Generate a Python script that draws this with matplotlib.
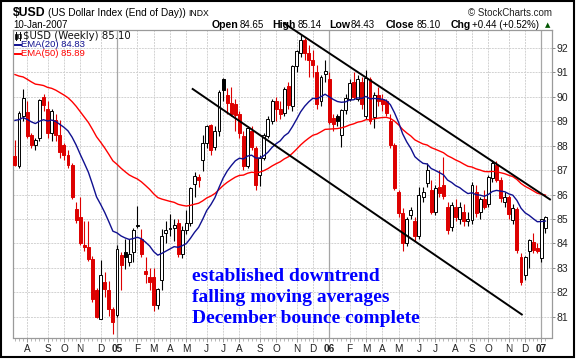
import matplotlib
matplotlib.use('Agg')
import matplotlib.pyplot as plt
import numpy as np
import pandas as pd
from matplotlib.patches import Rectangle
from matplotlib.lines import Line2D

# ---------------- data (weekly candles, week of 2004-07-12 .. 2007-01-08) ----------------
first_week = '2004-07-12'
opens = [87.58, 87.17, 89.19, 89.39, 88.44, 88.03, 88.30, 90.00, 89.49, 88.50,
         89.05, 88.44, 88.03, 87.62, 87.20, 85.40, 85.09, 83.93, 83.86, 83.38,
         82.08, 80.93, 82.43, 82.09, 81.33, 81.06, 83.52, 83.66, 83.25, 83.66,
         84.72, 84.20, 82.88, 82.63, 82.63, 81.47, 82.50, 84.41, 84.60, 84.62,
         84.84, 83.59, 84.54, 84.82, 86.43, 86.70, 87.40, 88.12, 88.85, 87.95,
         88.60, 90.72, 90.05, 89.72, 89.70, 89.30, 88.40, 87.15, 88.60, 87.90,
         86.80, 87.50, 88.40, 89.00, 89.80, 89.50, 89.33, 90.42, 89.60, 91.24,
         91.80, 92.30, 91.80, 91.50, 91.00, 89.80, 90.92, 90.70, 89.12, 89.20,
         88.44, 89.46, 89.90, 90.60, 89.90, 90.60, 89.20, 90.70, 89.16, 90.08,
         89.90, 89.80, 89.00, 88.03, 86.10, 85.23, 84.00, 85.16, 84.90, 84.30,
         85.90, 86.46, 86.18, 85.27, 86.30, 86.40, 85.50, 84.68, 85.50, 85.00,
         85.30, 84.90, 84.95, 86.10, 85.30, 85.80, 85.60, 86.66, 87.20, 86.60,
         85.70, 85.90, 84.95, 85.40, 83.45, 82.70, 83.70, 84.07, 83.80, 83.40,
         84.65]
highs = [88.23, 89.40, 90.31, 89.80, 88.50, 88.30, 89.90, 90.12, 89.80, 89.50,
         89.30, 89.05, 88.10, 87.80, 87.30, 85.70, 85.90, 84.90, 84.90, 83.50,
         82.20, 83.32, 82.84, 82.48, 81.40, 83.93, 83.66, 84.20, 84.20, 84.62,
         85.55, 84.60, 83.45, 83.00, 83.00, 82.20, 84.60, 84.90, 85.20, 85.00,
         85.00, 84.70, 85.36, 86.32, 86.90, 86.85, 88.45, 88.85, 88.90, 88.80,
         90.25, 90.76, 90.35, 90.40, 89.90, 89.40, 88.60, 88.80, 88.80, 88.00,
         87.60, 88.50, 89.20, 89.90, 90.00, 89.80, 90.40, 90.60, 91.30, 91.90,
         92.50, 92.40, 92.10, 91.90, 91.30, 90.90, 91.50, 91.00, 89.30, 89.30,
         89.50, 90.10, 90.70, 91.00, 90.90, 90.80, 91.10, 90.80, 90.20, 90.40,
         90.10, 89.90, 89.30, 88.10, 86.20, 85.43, 85.10, 85.50, 85.10, 86.30,
         86.30, 87.28, 86.60, 86.40, 87.00, 87.55, 85.70, 85.70, 85.80, 85.70,
         85.60, 85.30, 86.50, 86.40, 85.90, 86.20, 86.80, 87.40, 87.35, 86.70,
         86.10, 86.00, 85.60, 85.50, 83.60, 83.50, 84.20, 84.41, 84.00, 85.00,
         85.14]
lows = [87.15, 87.10, 89.00, 88.30, 87.90, 87.82, 88.20, 89.40, 88.30, 88.20,
        88.20, 87.50, 87.40, 87.10, 85.80, 84.85, 83.95, 83.70, 83.30, 81.60,
        80.95, 80.90, 81.81, 81.05, 80.31, 81.00, 82.08, 82.95, 83.10, 83.25,
        84.65, 83.45, 82.40, 82.10, 81.26, 81.33, 82.10, 84.00, 84.30, 84.10,
        83.45, 83.40, 84.40, 84.70, 85.90, 86.30, 86.95, 87.90, 87.60, 87.80,
        88.40, 89.80, 89.30, 89.20, 88.60, 88.30, 87.00, 87.10, 87.80, 86.20,
        86.35, 87.40, 88.30, 88.90, 89.00, 89.10, 89.20, 89.50, 89.40, 91.00,
        91.60, 91.50, 90.80, 90.80, 89.50, 89.60, 90.60, 88.90, 88.60, 88.80,
        87.96, 89.30, 89.80, 89.90, 89.80, 89.50, 89.10, 88.90, 88.70, 89.60,
        89.40, 89.20, 87.90, 86.20, 85.10, 83.70, 83.90, 85.00, 84.10, 84.20,
        85.70, 86.30, 85.20, 85.15, 85.90, 85.80, 84.40, 84.50, 84.90, 84.80,
        84.70, 84.70, 84.80, 85.10, 85.00, 85.40, 85.50, 86.50, 86.50, 85.70,
        85.50, 85.00, 84.80, 83.60, 82.30, 82.50, 83.00, 83.60, 83.60, 83.25,
        84.43]
closes = [87.21, 89.33, 89.94, 88.37, 88.03, 88.23, 89.87, 89.66, 88.50, 89.40,
          88.44, 87.75, 87.62, 87.20, 85.91, 84.95, 84.03, 83.86, 83.38, 81.74,
          81.00, 82.70, 82.15, 81.33, 80.79, 83.79, 83.11, 83.45, 83.59, 84.54,
          84.76, 83.59, 82.74, 82.43, 81.47, 82.15, 84.30, 84.57, 84.62, 84.75,
          83.59, 84.54, 84.82, 86.25, 86.76, 86.60, 88.12, 88.78, 87.82, 88.60,
          90.20, 90.28, 89.72, 89.30, 89.25, 88.50, 87.15, 88.70, 87.95, 86.40,
          87.50, 88.45, 89.10, 89.80, 89.50, 89.30, 90.31, 89.67, 91.24, 91.85,
          92.30, 91.80, 91.50, 91.30, 89.70, 90.82, 91.06, 88.95, 88.90, 89.00,
          89.46, 89.94, 90.55, 90.00, 90.70, 89.70, 90.76, 88.99, 90.08, 89.80,
          89.70, 89.33, 88.03, 86.25, 85.25, 84.00, 85.02, 85.37, 84.30, 86.00,
          86.10, 87.00, 85.30, 86.25, 86.05, 85.95, 84.55, 85.57, 85.10, 85.50,
          84.90, 85.00, 86.39, 85.23, 85.80, 85.50, 86.70, 87.28, 86.60, 85.85,
          85.90, 85.20, 85.43, 83.75, 82.43, 83.45, 84.16, 83.73, 83.70, 84.98,
          85.10]
ema20_seed = 89.22
ema50_seed = 91.05
month_labels = ['A', 'S', 'O', 'N', 'D', '05', 'F', 'M', 'A', 'M', 'J', 'J', 'A', 'S', 'O',
                'N', 'D', '06', 'F', 'M', 'A', 'M', 'J', 'J', 'A', 'S', 'O', 'N', 'D', '07']
y_ticks = list(range(81, 93))
upper_x = [65.9, 131.1]
upper_y = [93.0, 85.8]
lower_x = [43.55, 124.2]
lower_y = [90.31, 81.10]
notes = ['established downtrend', 'falling moving averages', 'December bounce complete']

# ---------------- figure ----------------
W, H = 576, 359
fig = plt.figure(figsize=(W / 100, H / 100), dpi=100)
fig.patch.set_facecolor('white')


def fx(x):
    return x / W


def fy(y):
    return 1 - y / H


ax = fig.add_axes([fx(12.5), fy(337.5), fx(552) - fx(12.5), fy(29.5) - fy(337.5)])
n = len(closes)
dates = pd.date_range(first_week, periods=n, freq='W-MON')
month_pos = [i for i in range(1, n) if dates[i].month != dates[i - 1].month]

ax.set_xlim(-0.6, 131.6)
ax.set_ylim(80.16, 92.74)

GRID = '#d2d2d2'
for yv in y_ticks:
    ax.axhline(yv, color=GRID, lw=0.7, ls=(0, (2, 1)), zorder=1)
for p, lab in zip(month_pos, month_labels):
    if lab.isdigit():
        ax.axvline(p, color='#a6a6a6', lw=0.9, zorder=1)
    else:
        ax.axvline(p, color=GRID, lw=0.7, ls=(0, (2, 1)), zorder=1)

RED = '#dd0000'
for i in range(n):
    o, h, l, c = opens[i], highs[i], lows[i], closes[i]
    prev = closes[i - 1] if i > 0 else o
    col = 'black' if c >= prev else RED
    hollow = c >= o
    ax.vlines(i, l, h, color=col, lw=0.8, zorder=3)
    bottom = min(o, c)
    height = max(abs(c - o), 0.04)
    ax.add_patch(Rectangle((i - 0.36, bottom), 0.72, height,
                           facecolor='white' if hollow else col,
                           edgecolor=col, lw=0.7, zorder=4))


def ema(vals, span, seed):
    a = 2.0 / (span + 1)
    out, e = [], seed
    for v in vals:
        e = a * v + (1 - a) * e
        out.append(e)
    return out


x = np.arange(n)
ax.plot(x, ema(closes, 50, ema50_seed), color='#ff0000', lw=1.0, zorder=5)
ax.plot(x, ema(closes, 20, ema20_seed), color='#101090', lw=1.0, zorder=5)

ax.plot(upper_x, upper_y, color='black', lw=1.4, zorder=6, clip_on=False)
ax.plot(lower_x, lower_y, color='black', lw=1.4, zorder=6)

# axes styling
for s in ax.spines.values():
    s.set_color('#9a9a9a')
    s.set_linewidth(0.9)
ax.yaxis.tick_right()
ax.set_yticks(y_ticks)
ax.set_yticklabels([str(v) for v in y_ticks])
ax.tick_params(axis='y', which='major', length=2, width=0.6, color='#777777', pad=1.5,
               labelsize=7.5, labelcolor='#222222')
ax.set_xticks(month_pos)
ax.set_xticklabels(month_labels)
ax.set_xticks(np.arange(n), minor=True)
ax.tick_params(axis='x', which='major', length=3, width=0.6, color='#888888', pad=2,
               labelsize=7.2, labelcolor='#222222')
ax.tick_params(axis='x', which='minor', length=1.8, width=0.5, color='#9a9a9a')
for t in ax.get_xticklabels():
    t.set_fontfamily('Liberation Sans')
    if t.get_text().isdigit():
        t.set_fontweight('bold')
for t in ax.get_yticklabels():
    t.set_fontfamily('Liberation Sans')

# annotation
for k, t in enumerate(notes):
    fig.text(fx(192), fy(281 + 21 * k), t, color='#0000ff', fontsize=14,
             fontweight='bold', family='Liberation Serif', va='baseline', zorder=10)

# header
SANS = ['Liberation Sans', 'DejaVu Sans']
fig.text(fx(12.5), fy(16.5), '$USD', fontsize=8.8, fontweight='bold', family=SANS, va='baseline')
fig.text(fx(47.5), fy(16.5), '(US Dollar Index (End of Day))', fontsize=7.3, family=SANS, va='baseline')
fig.text(fx(188.5), fy(16.5), 'INDX', fontsize=6.2, family=SANS, va='baseline')
fig.text(fx(13), fy(27.5), '10-Jan-2007', fontsize=7, family=SANS, va='baseline')
fig.text(fx(552), fy(16), '\u00a9 StockCharts.com', fontsize=7, family=SANS, va='baseline', ha='right',
         color='#222222')
hdr = [(211.5, 'Open', True), (239.5, '84.65', False), (272.5, 'High', True), (298, '85.14', False),
       (329, 'Low', True), (350.5, '84.43', False), (386, 'Close', True), (416.5, '85.10', False),
       (450.5, 'Chg', True), (472.5, '+0.44 (+0.52%)', False)]
for xp, t, b in hdr:
    fig.text(fx(xp), fy(27.5), t, fontsize=7.6 if b else 7, fontweight='bold' if b else 'normal',
             family=SANS, va='baseline')
fig.text(fx(547.5), fy(27), '\u25B2', fontsize=5, family=['DejaVu Sans'], va='baseline', ha='center',
         color='#005500')

# legend in plot
fig.add_artist(Line2D([fx(16), fx(16)], [fy(32), fy(40)], color='black', lw=0.7))
fig.add_artist(Rectangle((fx(14.8), fy(39)), fx(2.4), fy(34) - fy(39), facecolor='black',
                         edgecolor='black', lw=0.5, transform=fig.transFigure))
fig.add_artist(Line2D([fx(19.5), fx(19.5)], [fy(32), fy(40)], color='black', lw=0.7))
fig.add_artist(Rectangle((fx(18.3), fy(38)), fx(2.4), fy(33.5) - fy(38), facecolor='white',
                         edgecolor='black', lw=0.5, transform=fig.transFigure))
fig.text(fx(23), fy(35.7), '$USD (Weekly) 85.10', fontsize=7.3, family=['DejaVu Sans'], va='center',
         color='#111111')
fig.add_artist(Line2D([fx(15), fx(21)], [fy(44.5), fy(44.5)], color='#101090', lw=1.4))
fig.text(fx(21), fy(44.5), 'EMA(20) 84.83', fontsize=6.8, family=SANS, va='center', color='#101090')
fig.add_artist(Line2D([fx(15), fx(21)], [fy(53.5), fy(53.5)], color='#ff0000', lw=1.4))
fig.text(fx(21), fy(53.5), 'EMA(50) 85.89', fontsize=6.8, family=SANS, va='center', color='#ff0000')

# outer border
fig.add_artist(Rectangle((fx(1), fy(356.5)), fx(573.5) - fx(1), fy(1) - fy(356.5), fill=False,
                         edgecolor='black', lw=1.5, transform=fig.transFigure))

fig.savefig('out.png', dpi=100)
